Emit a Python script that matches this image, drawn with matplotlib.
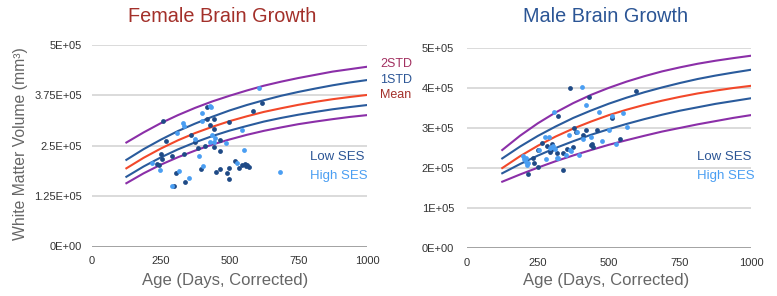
import matplotlib.pyplot as plt

plt.rcParams['font.family'] = ['Liberation Sans', 'DejaVu Sans']

# curve values (thousands of mm3) read at these ages (days)
curve_days = [125, 187.5, 250, 312.5, 375, 437.5, 500, 562.5, 625, 687.5, 750, 812.5, 875, 937.5, 1000]

f_2std_up = [258, 283, 306, 326, 344, 360, 374, 387, 399, 409, 418, 426, 434, 440, 446]
f_1std_up = [215, 241.5, 265, 286.5, 305, 322, 337.5, 351, 363, 374, 383.5, 392, 400, 407, 413]
f_mean = [194, 220, 243, 263.5, 281.5, 297, 311, 323, 334, 343, 351.5, 359, 365.5, 371, 376]
f_1std_lo = [173, 198.5, 221, 241, 258.5, 274, 287.5, 299, 310, 319, 327, 334, 340.5, 346, 351]
f_2std_lo = [157, 181.5, 203, 221.5, 238, 253, 265.5, 277, 287, 295.5, 303.5, 310, 316, 321.5, 326]

m_2std_up = [245, 280.5, 311.5, 338.5, 362, 382.5, 400, 415.5, 429, 441, 451, 460, 467.5, 474, 480]
m_1std_up = [224, 253.5, 280, 303.5, 325, 343.5, 360.5, 375.5, 389, 401, 412, 422, 430.5, 438, 445]
m_mean = [200, 229.5, 255.5, 278.5, 298.5, 316, 332, 345.5, 357.5, 368, 377.5, 386, 393, 399.5, 405]
m_1std_lo = [187, 210, 231, 250, 267, 283, 297, 310, 322, 333, 343, 351.5, 360, 367, 374]
m_2std_lo = [166, 184, 201, 217, 231.5, 245, 258, 269.5, 280.5, 291, 300, 309, 317, 325, 332]

# female scatter (volumes in thousands of mm3)
f_low_days = [258, 269, 250, 255, 242, 236, 291, 307, 298, 333, 337, 361, 376, 384, 398,
              412, 417, 418, 430, 445, 445, 442, 450, 464, 464, 467, 491, 497, 498, 498,
              519, 533, 547, 555, 560, 565, 572, 584, 619]
f_low_vals = [312, 263, 230, 217, 201, 205, 225, 182, 149, 230, 161, 277, 260, 244, 192,
              250, 345, 316, 302, 316, 292, 248, 186, 264, 238, 192, 183, 168, 308, 196,
              212, 194, 201, 205, 200, 203, 198, 336, 355]
f_high_days = [218, 246, 291, 309, 317, 331, 333, 351, 373, 389, 400, 400, 402, 430, 433,
               437, 428, 442, 448, 488, 528, 545, 551, 607, 682]
f_high_vals = [208, 190, 149, 281, 188, 307, 299, 171, 266, 225, 332, 312, 200, 349, 347,
               277, 260, 260, 269, 256, 207, 288, 240, 393, 186]

# male scatter
m_low_days = [215, 234, 237, 251, 251, 266, 281, 292, 296, 300, 301, 317, 322, 340, 340,
              354, 363, 374, 378, 386, 408, 420, 430, 437, 441, 445, 460, 510, 538, 597]
m_low_vals = [184, 224, 212, 203, 245, 262, 256, 240, 246, 250, 260, 238, 330, 237, 195,
              248, 399, 253, 300, 290, 282, 295, 378, 257, 260, 252, 295, 325, 272, 393]
m_high_days = [199, 203, 207, 210, 213, 215, 255, 275, 279, 291, 293, 299, 305, 308, 311,
               317, 320, 348, 360, 363, 368, 389, 394, 406, 408, 419, 437, 465, 477, 500,
               512, 525, 549, 565]
m_high_vals = [229, 222, 215, 226, 208, 212, 245, 278, 222, 277, 250, 252, 254, 339, 247,
               224, 224, 232, 282, 245, 243, 291, 232, 403, 272, 357, 277, 339, 268, 295,
               330, 260, 336, 303]

x_ticks = [0, 250, 500, 750, 1000]
f_yticks = [0, 125000, 250000, 375000, 500000]
f_ylabels = ["0E+00", "1.25E+05", "2.5E+05", "3.75E+05", "5E+05"]
m_yticks = [0, 100000, 200000, 300000, 400000, 500000]
m_ylabels = ["0E+00", "1E+05", "2E+05", "3E+05", "4E+05", "5E+05"]

purple = "#8b2fa8"
blue = "#2a5b9c"
red = "#f2482a"
dark_dot = "#1f4a86"
light_dot = "#4a9ef2"

fig = plt.figure(figsize=(7.77, 2.96), dpi=100)
ax1 = fig.add_axes([92 / 777, 1 - 246.5 / 296, 275 / 777, 201.5 / 296])
ax2 = fig.add_axes([466.7 / 777, 1 - 248.3 / 296, 284.3 / 777, 200.6 / 296])


def draw(ax, curves, low, high, yticks, ylabels, pad):
    for vals, col in curves:
        ax.plot(curve_days, [v * 1000 for v in vals], color=col, lw=1.5, zorder=2)
    ax.scatter(low[0], [v * 1000 for v in low[1]], s=12, color=dark_dot, lw=0, zorder=3)
    ax.scatter(high[0], [v * 1000 for v in high[1]], s=12, color=light_dot, lw=0, zorder=3)
    ax.set_xlim(0, 1000)
    ax.set_ylim(0, 500000)
    ax.set_xticks(x_ticks)
    ax.set_xticklabels([str(t) for t in x_ticks])
    ax.set_yticks(yticks)
    ax.set_yticklabels(ylabels)
    ax.tick_params(length=0, labelsize=8, labelcolor="#333333")
    ax.tick_params(axis="y", pad=pad)
    ax.tick_params(axis="x", pad=7)
    for s in ax.spines.values():
        s.set_visible(False)
    ax.grid(axis="y", color="#d4d4d4", lw=1.2)
    ax.set_axisbelow(True)
    ax.axhline(0, color="#9a9a9a", lw=1.2, zorder=1)


draw(ax1, [(f_2std_up, purple), (f_1std_up, blue), (f_mean, red), (f_1std_lo, blue), (f_2std_lo, purple)],
     (f_low_days, f_low_vals), (f_high_days, f_high_vals), f_yticks, f_ylabels, 7)
draw(ax2, [(m_2std_up, purple), (m_1std_up, blue), (m_mean, red), (m_1std_lo, blue), (m_2std_lo, purple)],
     (m_low_days, m_low_vals), (m_high_days, m_high_vals), m_yticks, m_ylabels, 9)

W, H = 777, 296
fig.text(222 / W, 1 - 16 / H, "Female Brain Growth", color="#a3302a", fontsize=14.3,
         ha="center", va="center")
fig.text(606 / W, 1 - 16 / H, "Male Brain Growth", color="#2b5595", fontsize=14.3,
         ha="center", va="center")
fig.text(21 / W, 1 - 144 / H, "White Matter Volume (mm³)", color="#666666", fontsize=11.3,
         rotation=90, ha="center", va="center")
fig.text(225 / W, 1 - 280 / H, "Age (Days, Corrected)", color="#666666", fontsize=12,
         ha="center", va="center")
fig.text(606 / W, 1 - 280 / H, "Age (Days, Corrected)", color="#666666", fontsize=12,
         ha="center", va="center")

fig.text(380 / W, 1 - 64 / H, "2STD", color="#a23060", fontsize=9, ha="left", va="center")
fig.text(380 / W, 1 - 79.5 / H, "1STD", color="#2b5595", fontsize=9, ha="left", va="center")
fig.text(380 / W, 1 - 95 / H, "Mean", color="#a3302a", fontsize=9, ha="left", va="center")

fig.text(310 / W, 1 - 157 / H, "Low SES", color="#2b5595", fontsize=9.5, ha="left", va="center")
fig.text(310 / W, 1 - 176 / H, "High SES", color="#4a9ef2", fontsize=9.5, ha="left", va="center")
fig.text(697 / W, 1 - 157 / H, "Low SES", color="#2b5595", fontsize=9.5, ha="left", va="center")
fig.text(697 / W, 1 - 176 / H, "High SES", color="#4a9ef2", fontsize=9.5, ha="left", va="center")

fig.savefig("out.png", dpi=100)
